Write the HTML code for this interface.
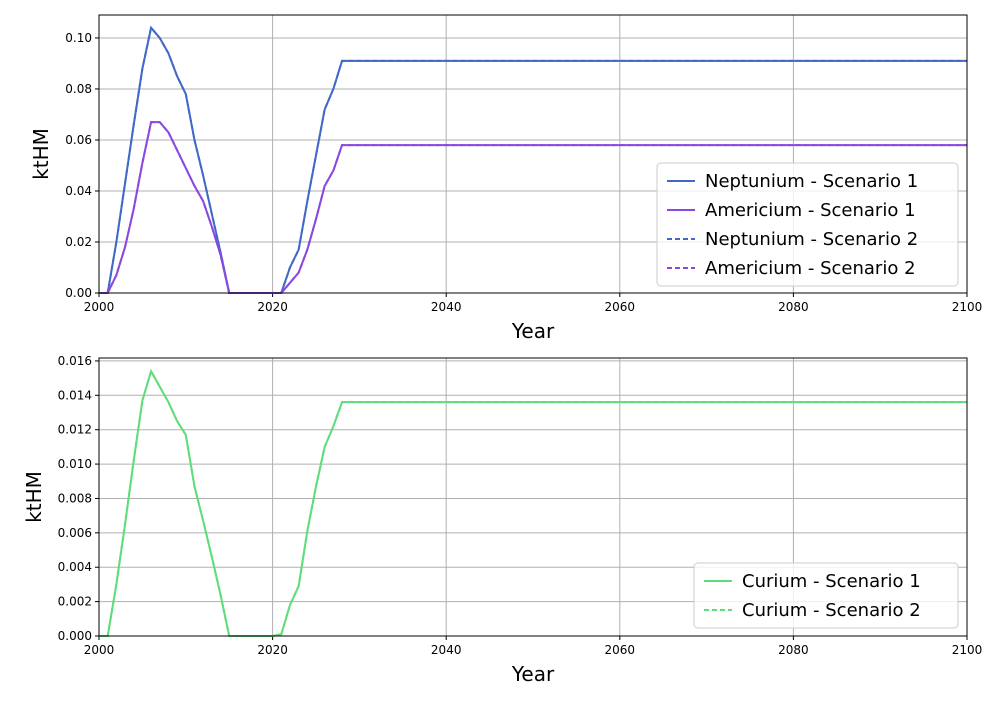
<!DOCTYPE html>
<html><head><meta charset="utf-8"><style>
body{margin:0;background:#fff;font-family:"Liberation Sans","DejaVu Sans",sans-serif;}
svg text{font-family:"DejaVu Sans","Liberation Sans",sans-serif;}
</style></head><body>
<svg id="chart" width="1000" height="700" xmlns="http://www.w3.org/2000/svg"></svg>
<script>
const years = [];
for (let y = 2000; y <= 2100; y++) years.push(y);
const npHead = [0,0,0.020,0.043,0.066,0.088,0.104,0.100,0.094,0.085,0.078,0.060,0.046,0.031,0.016,0,0,0,0,0,0,0,0.010,0.017,0.036,0.054,0.072,0.080,0.091];
const amHead = [0,0,0.007,0.018,0.033,0.051,0.067,0.067,0.063,0.056,0.049,0.042,0.036,0.026,0.015,0,0,0,0,0,0,0,0.004,0.008,0.017,0.029,0.042,0.048,0.058];
const cmHead = [0,0,0.003,0.0065,0.0102,0.0137,0.0154,0.0145,0.0136,0.0125,0.0117,0.0087,0.0067,0.0046,0.0024,0,0,0,0,0,0,0.0001,0.0018,0.0029,0.0061,0.0087,0.0110,0.0122,0.0136];
const npPlateau = 0.091, amPlateau = 0.058, cmPlateau = 0.0136;
const xTicks = [2000,2020,2040,2060,2080,2100];
const yTicksTop = [0,0.02,0.04,0.06,0.08,0.10];
const yTicksBot = [0,0.002,0.004,0.006,0.008,0.010,0.012,0.014,0.016];

function extend(head, plateau){ return years.map((y,i)=> i<head.length ? head[i] : plateau); }
const np = extend(npHead, npPlateau), am = extend(amHead, amPlateau), cm = extend(cmHead, cmPlateau);

const NS = "http://www.w3.org/2000/svg";
const svg = document.getElementById('chart');
function el(tag, attrs, parent){ const e=document.createElementNS(NS,tag); for(const k in attrs) e.setAttribute(k,attrs[k]); (parent||svg).appendChild(e); return e; }

function panel(cfg){
  const {top,bottom,left,right,ymax,yTicks,dec,series,legend,name} = cfg;
  const g = el('g',{});
  
  
  const sx = v => left + (v-2000)/100*(right-left);
  const sy = v => bottom - v/ymax*(bottom-top);
  xTicks.forEach(t=>{
    const gl = el('line',{x1:sx(t),x2:sx(t),y1:top,y2:bottom,stroke:'#b0b0b0','stroke-width':1},g);
     
    el('line',{x1:sx(t),x2:sx(t),y1:bottom,y2:bottom+4,stroke:'#000'},g);
    const tx = el('text',{x:sx(t),y:bottom+18,'text-anchor':'middle','font-size':12},g);
    tx.textContent=t;
     
  });
  yTicks.forEach(t=>{
    const gl = el('line',{x1:left,x2:right,y1:sy(t),y2:sy(t),stroke:'#b0b0b0','stroke-width':1},g);
     
    el('line',{x1:left-4,x2:left,y1:sy(t),y2:sy(t),stroke:'#000'},g);
    const tx = el('text',{x:left-7,y:sy(t)+4,'text-anchor':'end','font-size':12},g);
    tx.textContent=t.toFixed(dec);
     
  });
  series.forEach(s=>{
    const d = years.map((y,i)=>(i?'L':'M')+sx(y).toFixed(2)+','+sy(s.data[i]).toFixed(2)).join('');
    const p = el('path',{d:d,fill:'none',stroke:s.color,'stroke-width':2,'stroke-dasharray':s.dash||'none'},g);
    
    
  });
  const fr = el('rect',{x:left,y:top,width:right-left,height:bottom-top,fill:'none',stroke:'#000','stroke-width':1},g);
   
  const xl = el('text',{x:(left+right)/2,y:bottom+45,'text-anchor':'middle','font-size':20},g);
  xl.textContent='Year';
   
  const yl = el('text',{x:0,y:0,'text-anchor':'middle','font-size':20,transform:`translate(${cfg.ylx},${(top+bottom)/2}) rotate(-90)`},g);
  yl.textContent='ktHM';
   
  const lg = el('g',{},g);
   
  el('rect',{x:legend.x,y:legend.y,width:legend.w,height:legend.items.length*29+7,rx:4,fill:'#fff','fill-opacity':0.8,stroke:'#ccc'},lg);
  legend.items.forEach((it,i)=>{
    const cy = legend.y+18+i*29;
    const e = el('g',{},lg);
     
    el('line',{x1:legend.x+10,x2:legend.x+38,y1:cy,y2:cy,stroke:it.color,'stroke-width':2,'stroke-dasharray':it.dash||'none'},e);
    const t = el('text',{x:legend.x+48,y:cy+6,'font-size':18},e);
    t.textContent = it.label;
  });
}

const blue='#4169c8', purple='#8a48e0', green='#5fdd7a';
panel({name:'top-chart',top:15,bottom:293,left:99,right:967,ymax:0.109,yTicks:yTicksTop,dec:2,ylx:48,
  series:[{name:'neptunium-s1',data:np,color:blue},{name:'americium-s1',data:am,color:purple},
          {name:'neptunium-s2',data:np,color:blue,dash:'5,3'},{name:'americium-s2',data:am,color:purple,dash:'5,3'}],
  legend:{x:657,y:163,w:301,items:[{label:'Neptunium - Scenario 1',color:blue},{label:'Americium - Scenario 1',color:purple},
    {label:'Neptunium - Scenario 2',color:blue,dash:'5,3'},{label:'Americium - Scenario 2',color:purple,dash:'5,3'}]}});
panel({name:'bottom-chart',top:358,bottom:636,left:99,right:967,ymax:0.01617,yTicks:yTicksBot,dec:3,ylx:41,
  series:[{name:'curium-s1',data:cm,color:green},{name:'curium-s2',data:cm,color:green,dash:'5,3'}],
  legend:{x:694,y:563,w:264,items:[{label:'Curium - Scenario 1',color:green},{label:'Curium - Scenario 2',color:green,dash:'5,3'}]}});
</script>
</body></html>
